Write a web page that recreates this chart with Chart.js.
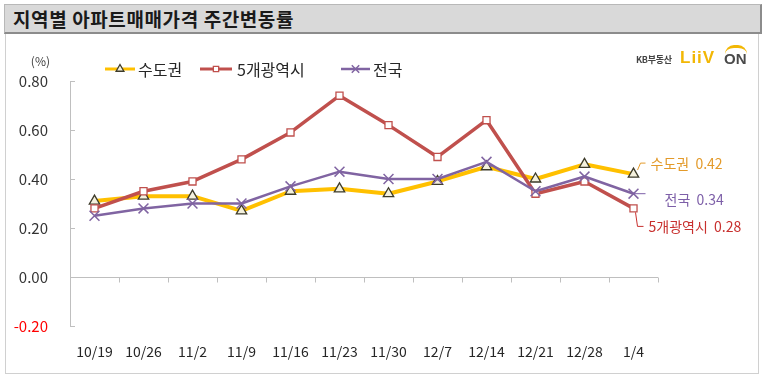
<!DOCTYPE html>
<html><head><meta charset="utf-8">
<script src="https://cdn.jsdelivr.net/npm/chart.js@4/dist/chart.umd.min.js"></script>
<style>
html,body{margin:0;padding:0;background:#fff;}
body{width:766px;height:382px;position:relative;overflow:hidden;font-family:"Noto Sans CJK KR","Noto Sans",sans-serif;}
#title{position:absolute;left:4px;top:4px;width:758px;height:30px;background:#d9d9d9;border:1px solid #b8b8b8;border-right:2px solid #8c8c8c;border-bottom:2px solid #8c8c8c;box-sizing:border-box;}
#title span{position:absolute;left:8px;top:0;line-height:27px;font-size:19px;font-weight:bold;color:#1a1a1a;letter-spacing:0.6px;}
#frame{position:absolute;left:5px;top:34px;width:754px;height:340px;border:1px solid #d0d0d0;border-top:none;box-sizing:border-box;}
#wrap{position:absolute;left:0;top:0;width:766px;height:382px;}
#logo{position:absolute;left:636px;top:48px;height:20px;white-space:nowrap;}
#logo .kb{position:absolute;left:0;top:5px;font-size:9px;color:#444;font-weight:bold;letter-spacing:-0.3px;}
#logo .liiv{position:absolute;left:44px;top:0px;font-size:17px;font-weight:900;color:#f2b705;font-family:"Liberation Sans",sans-serif;letter-spacing:1px;}
#logo .on{position:absolute;left:88px;top:2px;font-size:15px;font-weight:900;color:#4a4a4a;font-family:"Liberation Sans",sans-serif;}
#logo .roof{position:absolute;left:89px;top:-3px;width:22px;height:9px;border-top:3px solid #f2b705;border-radius:12px 12px 0 0;box-sizing:border-box;}
</style>
</head><body>
<div id="title"><span>지역별 아파트매매가격 주간변동률</span></div>
<div id="frame"></div>
<div id="wrap"><canvas id="c" width="766" height="382"></canvas></div>
<div id="logo"><span class="kb">KB부동산</span><span class="liiv">LiiV</span><span class="roof"></span><span class="on">ON</span></div>
<script>
// ---- data ----
const categories = ['10/19','10/26','11/2','11/9','11/16','11/23','11/30','12/7','12/14','12/21','12/28','1/4'];
const seriesNames = ['수도권','5개광역시','전국'];
const capitalArea = [0.31,0.33,0.33,0.27,0.35,0.36,0.34,0.39,0.45,0.40,0.46,0.42];
const fiveCities  = [0.28,0.35,0.39,0.48,0.59,0.74,0.62,0.49,0.64,0.34,0.39,0.28];
const nationwide  = [0.25,0.28,0.30,0.30,0.37,0.43,0.40,0.40,0.47,0.35,0.41,0.34];
const yTickValues = [-0.2,0,0.2,0.4,0.6,0.8];
const unitLabel = '(%)';

const FONT = '"Noto Sans CJK KR","Noto Sans",sans-serif';
const COLORS = {
  yellow:'#FFC000', red:'#C0504D', purple:'#8064A2',
  yellowText:'#E39A2A', redText:'#C8302E', purpleText:'#7D5FA8'
};

const fmt = v => (Math.abs(v) < 1e-9 ? 0 : v).toFixed(2);

const decor = {
  id:'decor',
  beforeDatasetsDraw(chart){
    const {ctx, chartArea:a, scales:{x,y}} = chart;
    ctx.save();
    ctx.strokeStyle = '#bfbfbf'; ctx.lineWidth = 1;
    const y0 = Math.round(y.getPixelForValue(0)) + 0.5;
    ctx.beginPath(); ctx.moveTo(a.left, y0); ctx.lineTo(a.right, y0); ctx.stroke();
    const n = categories.length;
    for (let i = 1; i <= n; i++) {
      const bx = i < n ? (x.getPixelForValue(i-1) + x.getPixelForValue(i)) / 2
                       : x.getPixelForValue(n-1) + (x.getPixelForValue(n-1) - x.getPixelForValue(n-2)) / 2;
      const px = Math.round(bx) + 0.5;
      ctx.beginPath(); ctx.moveTo(px, y0); ctx.lineTo(px, y0 + 5); ctx.stroke();
    }
    yTickValues.forEach(v => {
      const py = Math.round(y.getPixelForValue(v)) + 0.5;
      ctx.beginPath(); ctx.moveTo(a.left, py); ctx.lineTo(a.left + 5, py); ctx.stroke();
    });
    ctx.restore();
  },
  afterDraw(chart){
    const {ctx} = chart;
    ctx.save();
    ctx.font = '12px ' + FONT; ctx.fillStyle = '#404040';
    ctx.textAlign = 'right'; ctx.textBaseline = 'middle';
    ctx.fillText(unitLabel, 50, 61);
    const legendItems = [
      {ds:0, x1:105, x2:135, tx:138},
      {ds:1, x1:200, x2:232, tx:237},
      {ds:2, x1:341, x2:370, tx:373}
    ];
    const ly = 69;
    legendItems.forEach(it => {
      const d = chart.data.datasets[it.ds];
      ctx.strokeStyle = d.borderColor; ctx.lineWidth = Math.min(d.borderWidth, 3);
      ctx.beginPath(); ctx.moveTo(it.x1, ly); ctx.lineTo(it.x2, ly); ctx.stroke();
      ctx.fillStyle = d.pointBackgroundColor; ctx.strokeStyle = d.pointBorderColor;
      ctx.lineWidth = d.pointBorderWidth;
      Chart.helpers.drawPoint(ctx, {pointStyle:d.pointStyle, radius:d.pointRadius*0.75, borderWidth:d.pointBorderWidth, rotation:0}, (it.x1+it.x2)/2, ly);
      ctx.font = '16px ' + FONT; ctx.fillStyle = '#262626';
      ctx.textAlign = 'left'; ctx.textBaseline = 'middle';
      ctx.fillText(d.label, it.tx, ly + 1);
    });
    const last = categories.length - 1;
    const p0 = chart.getDatasetMeta(0).data[last];
    const p1 = chart.getDatasetMeta(1).data[last];
    const p2 = chart.getDatasetMeta(2).data[last];
    ctx.lineWidth = 1; ctx.font = '14px ' + FONT; ctx.textAlign = 'left'; ctx.textBaseline = 'middle';
    ctx.strokeStyle = COLORS.yellowText; ctx.fillStyle = COLORS.yellowText;
    ctx.beginPath(); ctx.moveTo(p0.x + 4, p0.y - 4); ctx.lineTo(p0.x + 7, p0.y - 11); ctx.lineTo(p0.x + 12, p0.y - 11); ctx.stroke();
    ctx.fillText(seriesNames[0] + '  ' + fmt(capitalArea[last]), p0.x + 17, p0.y - 10);
    ctx.strokeStyle = COLORS.purpleText; ctx.fillStyle = COLORS.purpleText;
    ctx.beginPath(); ctx.moveTo(p2.x, p2.y); ctx.lineTo(p2.x + 12, p2.y); ctx.stroke();
    ctx.fillText(seriesNames[2] + '  ' + fmt(nationwide[last]), p2.x + 31, p2.y + 6);
    ctx.strokeStyle = COLORS.redText; ctx.fillStyle = COLORS.redText;
    ctx.beginPath(); ctx.moveTo(p1.x + 2, p1.y + 4); ctx.lineTo(p1.x + 4, p1.y + 18); ctx.lineTo(p1.x + 10, p1.y + 18); ctx.stroke();
    ctx.fillText(seriesNames[1] + '  ' + fmt(fiveCities[last]), p1.x + 15, p1.y + 18);
    ctx.restore();
  }
};

new Chart(document.getElementById('c'), {
  type:'line',
  data:{
    labels: categories,
    datasets:[
      {label:seriesNames[0], data:capitalArea, borderColor:COLORS.yellow, borderWidth:4,
       pointStyle:'triangle', pointRadius:6, pointBackgroundColor:'#f4f1de', pointBorderColor:'#3d3b2a', pointBorderWidth:1.3,
       order:3, clip:false, tension:0},
      {label:seriesNames[1], data:fiveCities, borderColor:COLORS.red, borderWidth:3.5,
       pointStyle:'rect', pointRadius:5, pointBackgroundColor:'#ffffff', pointBorderColor:COLORS.red, pointBorderWidth:1.3,
       order:2, clip:false, tension:0},
      {label:seriesNames[2], data:nationwide, borderColor:COLORS.purple, borderWidth:2.5,
       pointStyle:'crossRot', pointRadius:7, pointBackgroundColor:COLORS.purple, pointBorderColor:COLORS.purple, pointBorderWidth:1.5,
       order:1, clip:false, tension:0}
    ]
  },
  options:{
    responsive:false, animation:false, devicePixelRatio:1,
    layout:{padding:{top:81, right:108, bottom:0, left:0}},
    plugins:{legend:{display:false}, tooltip:{enabled:false}},
    elements:{line:{borderJoinStyle:'round'}},
    scales:{
      x:{
        type:'category', offset:true,
        grid:{display:false, drawTicks:false}, border:{display:false},
        ticks:{color:'#262626', font:{family:FONT, size:14}, padding:17, maxRotation:0, autoSkip:false},
        afterFit(s){ s.height = 56; }
      },
      y:{
        min:-0.2, max:0.8,
        grid:{display:false, drawTicks:false}, border:{display:true, color:'#bfbfbf', width:1},
        ticks:{stepSize:0.2, padding:22, font:{family:FONT, size:15},
          color:c => c.tick.value < -1e-9 ? '#FF0000' : '#333333',
          callback:v => fmt(v)},
        afterFit(s){ s.width = 70; }
      }
    }
  },
  plugins:[decor]
});
</script>
</body></html>
